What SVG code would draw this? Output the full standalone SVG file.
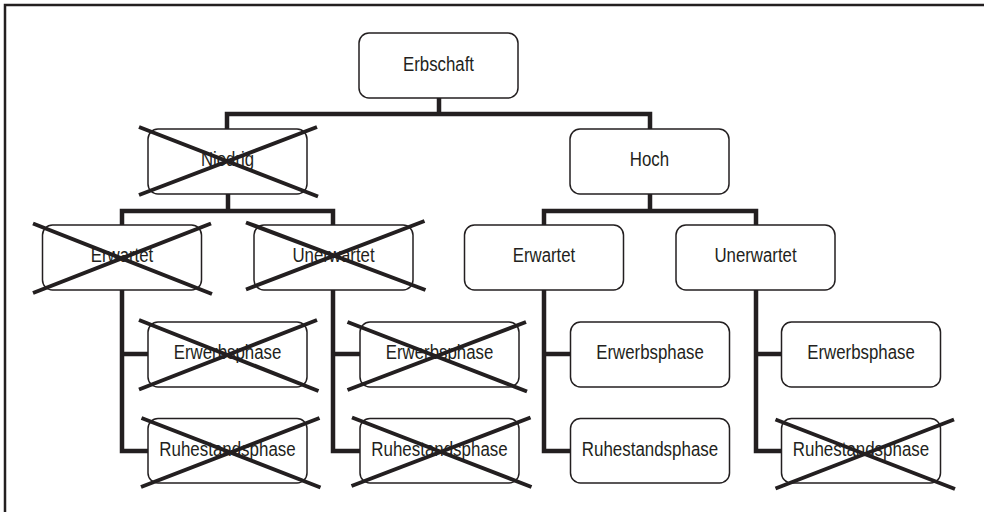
<svg xmlns="http://www.w3.org/2000/svg" width="984" height="512" viewBox="0 0 984 512">
<style>
.box{fill:#fff;stroke:#231f20;stroke-width:1.5}
.lbl{font-family:"Liberation Sans",Arial,sans-serif;font-size:20px;fill:#231f20;text-anchor:middle}
.con{fill:none;stroke:#231f20;stroke-width:4.5;stroke-linejoin:miter;stroke-linecap:butt}
.x{stroke:#231f20;stroke-width:4;stroke-linecap:butt}
</style>
<rect width="984" height="512" fill="#fff"/>
<path d="M5,512 V5 H984" fill="none" stroke="#231f20" stroke-width="2.5"/>
<g id="connectors" class="con">
<path d="M439,98 V114 M227,129 V114 H650 V129"/>
<path d="M228,194 V211 M122,225 V211 H333 V225"/>
<path d="M650,194 V211 M544,225 V211 H756 V225"/>
<path d="M122,290 V451 H148 M122,354 H148"/>
<path d="M333,290 V451 H360 M333,354 H360"/>
<path d="M544,290 V451 H571 M544,354 H571"/>
<path d="M756,290 V451 H782 M756,354 H782"/>
</g>
<g id="erbschaft"><rect class="box" x="359" y="33" width="159" height="65" rx="10"/><text class="lbl" x="438.5" y="70.5" textLength="71" lengthAdjust="spacingAndGlyphs">Erbschaft</text></g>
<g id="niedrig"><rect class="box" x="148" y="129" width="159" height="65" rx="10"/><text class="lbl" x="227.5" y="166" textLength="53" lengthAdjust="spacingAndGlyphs">Niedrig</text>
<path class="x" d="M139,127 L318,196.5 M139,195 L317,127"/></g>
<g id="hoch"><rect class="box" x="570" y="129" width="159" height="65" rx="10"/><text class="lbl" x="649.5" y="166" textLength="39.3" lengthAdjust="spacingAndGlyphs">Hoch</text></g>
<g id="n-erwartet"><rect class="box" x="42.5" y="225" width="159" height="65" rx="10"/><text class="lbl" x="122" y="262" textLength="62.6" lengthAdjust="spacingAndGlyphs">Erwartet</text>
<path class="x" d="M33,223.5 L212,294 M33,293 L211,223.5"/></g>
<g id="n-unerwartet"><rect class="box" x="254" y="225" width="159" height="65" rx="10"/><text class="lbl" x="333.5" y="262" textLength="82.2" lengthAdjust="spacingAndGlyphs">Unerwartet</text>
<path class="x" d="M246,222.5 L425.5,290 M246,289.5 L424.5,221"/></g>
<g id="h-erwartet"><rect class="box" x="464.5" y="225" width="159" height="65" rx="10"/><text class="lbl" x="544" y="262" textLength="62.6" lengthAdjust="spacingAndGlyphs">Erwartet</text></g>
<g id="h-unerwartet"><rect class="box" x="676" y="225" width="159" height="65" rx="10"/><text class="lbl" x="755.5" y="262" textLength="82.2" lengthAdjust="spacingAndGlyphs">Unerwartet</text></g>
<g id="ne-erwerbsphase"><rect class="box" x="148" y="322" width="159" height="65" rx="10"/><text class="lbl" x="227.5" y="359" textLength="107.5" lengthAdjust="spacingAndGlyphs">Erwerbsphase</text>
<path class="x" d="M139,320 L318.5,391 M139,389.5 L317,320"/></g>
<g id="ne-ruhestandsphase"><rect class="box" x="148" y="418.5" width="159" height="64.5" rx="10"/><text class="lbl" x="227.5" y="455.5" textLength="136.3" lengthAdjust="spacingAndGlyphs">Ruhestandsphase</text>
<path class="x" d="M141.5,418 L320.5,487.5 M141,487 L319.5,418"/></g>
<g id="nu-erwerbsphase"><rect class="box" x="360" y="322" width="159" height="65" rx="10"/><text class="lbl" x="439.5" y="359" textLength="107.5" lengthAdjust="spacingAndGlyphs">Erwerbsphase</text>
<path class="x" d="M347.5,322 L527,391.5 M347.5,390 L526,322"/></g>
<g id="nu-ruhestandsphase"><rect class="box" x="360" y="418.5" width="159" height="64.5" rx="10"/><text class="lbl" x="439.5" y="455.5" textLength="136.3" lengthAdjust="spacingAndGlyphs">Ruhestandsphase</text>
<path class="x" d="M352,417.5 L531.5,487 M351.5,486 L530.5,417.5"/></g>
<g id="he-erwerbsphase"><rect class="box" x="570.5" y="322" width="159" height="65" rx="10"/><text class="lbl" x="650" y="359" textLength="107.5" lengthAdjust="spacingAndGlyphs">Erwerbsphase</text></g>
<g id="he-ruhestandsphase"><rect class="box" x="570.5" y="418.5" width="159" height="64.5" rx="10"/><text class="lbl" x="650" y="455.5" textLength="136.3" lengthAdjust="spacingAndGlyphs">Ruhestandsphase</text></g>
<g id="hu-erwerbsphase"><rect class="box" x="781.5" y="322" width="159" height="65" rx="10"/><text class="lbl" x="861" y="359" textLength="107.5" lengthAdjust="spacingAndGlyphs">Erwerbsphase</text></g>
<g id="hu-ruhestandsphase"><rect class="box" x="781.5" y="418.5" width="159" height="64.5" rx="10"/><text class="lbl" x="861" y="455.5" textLength="136.3" lengthAdjust="spacingAndGlyphs">Ruhestandsphase</text>
<path class="x" d="M775.5,419.5 L955,489 M775.5,488.5 L954,419.5"/></g>
</svg>
